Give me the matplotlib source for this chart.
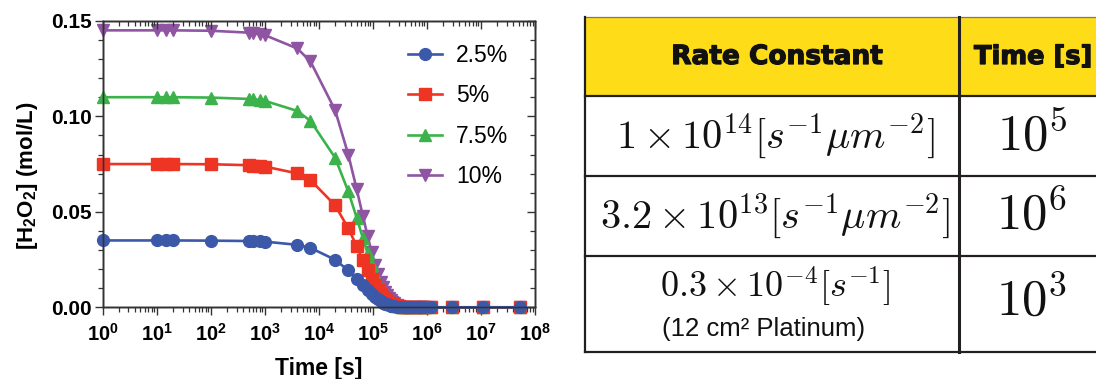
import numpy as np
import matplotlib
matplotlib.use("Agg")
import matplotlib.pyplot as plt
import matplotlib.patheffects as pe
from matplotlib.patches import Rectangle
from matplotlib.ticker import FixedLocator, MultipleLocator, LogLocator, NullFormatter

plt.rcParams['font.family'] = ['Liberation Sans', 'DejaVu Sans']
plt.rcParams['mathtext.fontset'] = 'custom'
plt.rcParams['mathtext.rm'] = 'Liberation Sans:bold'
plt.rcParams['mathtext.it'] = 'Liberation Sans:bold:italic'
plt.rcParams['mathtext.bf'] = 'Liberation Sans:bold'

# ---- data -------------------------------------------------------------
time_s = [1, 10, 15, 20, 100, 500, 600, 800, 1000, 4000, 7000,
          20000, 35000, 50000, 65000, 80000, 95000,
          110000, 125000, 140000, 155000, 170000, 185000, 200000, 215000, 230000,
          250000, 275000, 300000, 350000,
          400000, 450000, 500000, 600000, 700000, 800000, 900000,
          1.2e6, 2.9e6, 1.1e7, 5.3e7]

h2o2_2p5 = [0.0350, 0.0350, 0.0350, 0.0350, 0.0349, 0.0347, 0.0346, 0.0345, 0.0344, 0.0327, 0.0311,
            0.0249, 0.0193, 0.0150, 0.0116, 0.0090, 0.0070,
            0.0054, 0.0042, 0.0032, 0.0025, 0.0019, 0.0015, 0.0012, 0.0009, 0.0007,
            0.0005, 0.0003, 0.0002, 0.0001,
            0.0000, 0.0000, 0.0000, 0.0000, 0.0000, 0.0000, 0.0000,
            0.0000, 0.0000, 0.0000, 0.0000]

h2o2_5 = [0.0750, 0.0750, 0.0750, 0.0750, 0.0749, 0.0744, 0.0742, 0.0740, 0.0737, 0.0701, 0.0666,
          0.0534, 0.0414, 0.0321, 0.0248, 0.0193, 0.0149,
          0.0116, 0.0090, 0.0069, 0.0054, 0.0042, 0.0032, 0.0025, 0.0019, 0.0015,
          0.0011, 0.0007, 0.0005, 0.0002,
          0.0001, 0.0000, 0.0000, 0.0000, 0.0000, 0.0000, 0.0000,
          0.0000, 0.0000, 0.0000, 0.0000]

h2o2_7p5 = [0.1100, 0.1100, 0.1100, 0.1100, 0.1098, 0.1091, 0.1089, 0.1085, 0.1081, 0.1028, 0.0976,
            0.0783, 0.0607, 0.0470, 0.0364, 0.0282, 0.0219,
            0.0170, 0.0131, 0.0102, 0.0079, 0.0061, 0.0047, 0.0037, 0.0028, 0.0022,
            0.0016, 0.0010, 0.0007, 0.0003,
            0.0001, 0.0001, 0.0000, 0.0000, 0.0000, 0.0000, 0.0000,
            0.0000, 0.0000, 0.0000, 0.0000]

h2o2_10 = [0.1450, 0.1450, 0.1450, 0.1450, 0.1448, 0.1438, 0.1435, 0.1430, 0.1425, 0.1355, 0.1287,
           0.1032, 0.0800, 0.0620, 0.0480, 0.0372, 0.0288,
           0.0223, 0.0173, 0.0134, 0.0104, 0.0081, 0.0062, 0.0048, 0.0038, 0.0029,
           0.0021, 0.0013, 0.0009, 0.0004,
           0.0002, 0.0001, 0.0000, 0.0000, 0.0000, 0.0000, 0.0000,
           0.0000, 0.0000, 0.0000, 0.0000]

series_labels = ['2.5%', '5%', '7.5%', '10%']
series_values = [h2o2_2p5, h2o2_5, h2o2_7p5, h2o2_10]

y_ticks = [0.00, 0.05, 0.10, 0.15]
y_tick_labels = ['0.00', '0.05', '0.10', '0.15']
x_exponents = [0, 1, 2, 3, 4, 5, 6, 7, 8]

table_header = ['Rate Constant', 'Time [s]']
rate_constants = [r'$1 \times 10^{14}[s^{-1}\mu m^{-2}]$',
                  r'$3.2 \times 10^{13}[s^{-1}\mu m^{-2}]$',
                  r'$0.3 \times 10^{-4}[s^{-1}]$']
rate_note = '(12 cm\u00b2 Platinum)'
times_table = [r'$10^{5}$', r'$10^{6}$', r'$10^{3}$']

# ---- styles -----------------------------------------------------------
colors = ['#3B59A8', '#EE3524', '#3BB34A', '#8F55A2']
markers = ['o', 's', '^', 'v']
msizes = [8.5, 8.8, 8.8, 8.8]
spine_col = '#333333'

W, H = 1096, 379
fig = plt.figure(figsize=(W / 100, H / 100), dpi=100)

x0, x1, y0, y1 = 102.7, 535.0, 20.8, 307.3
ax = fig.add_axes([x0 / W, 1 - y1 / H, (x1 - x0) / W, (y1 - y0) / H])

n = len(series_values)
for i, (lab, vals) in enumerate(zip(series_labels, series_values)):
    ax.plot(time_s, vals, color=colors[i], marker=markers[i], ms=msizes[i],
            lw=1.9, label=lab, clip_on=False, zorder=3 + (n - i))

ax.set_xscale('log')
ax.set_xlim(1, 1e8)
ax.set_ylim(0, 0.15)

x_ticks = [10.0 ** e for e in x_exponents]
minor_x = LogLocator(base=10, subs=np.arange(2, 10), numticks=100)


def style_axes(a, direction):
    a.xaxis.set_major_locator(FixedLocator(x_ticks))
    a.xaxis.set_minor_locator(minor_x)
    a.yaxis.set_major_locator(FixedLocator(y_ticks))
    a.yaxis.set_minor_locator(MultipleLocator(0.01))
    a.tick_params(which='major', direction=direction, length=6, width=1.0, color=spine_col)
    a.tick_params(which='minor', direction=direction, length=3.5, width=0.9, color=spine_col)
    for s in a.spines.values():
        s.set_color(spine_col)
        s.set_linewidth(1.0)


style_axes(ax, 'out')
ax.set_yticklabels(y_tick_labels, fontsize=15, fontweight='bold')
ax.set_xticklabels([r'$10^{%d}$' % e for e in x_exponents], fontsize=14.5)
ax.xaxis.set_minor_formatter(NullFormatter())
ax.tick_params(axis='y', which='major', pad=2)
ax.tick_params(axis='x', which='major', pad=5)

# mirrored ticks pointing inwards on top and right
axt = ax.twiny()
axt.set_xscale('log')
axt.set_xlim(1, 1e8)
style_axes(axt, 'in')
axt.tick_params(labeltop=False, labelbottom=False, labelleft=False, labelright=False)
axt.xaxis.set_minor_formatter(NullFormatter())
axr = ax.twinx()
axr.set_ylim(0, 0.15)
style_axes(axr, 'in')
axr.tick_params(labeltop=False, labelbottom=False, labelleft=False, labelright=False)
axt.yaxis.set_visible(False)
axr.xaxis.set_visible(False)

ax.set_xlabel('Time [s]', fontsize=16.5, fontweight='bold')
ax.xaxis.set_label_coords(0.5, -0.175)
ax.set_ylabel(r'[H$_2$O$_2$] (mol/L)', fontsize=16, fontweight='bold')
ax.yaxis.set_label_coords(-0.145, 0.46)

ax.legend(loc='upper left', bbox_to_anchor=(408 / W, 1 - 44 / H),
          bbox_transform=fig.transFigure, frameon=False, fontsize=16.5,
          handlelength=1.5, handletextpad=0.6, labelspacing=0.76,
          borderpad=0, borderaxespad=0)

# ---- table ------------------------------------------------------------
tab = fig.add_axes([0, 0, 1, 1])
tab.set_xlim(0, W)
tab.set_ylim(H, 0)
tab.axis('off')

tl, tr = 584.5, 1112
row_lines = [17.3, 96.2, 175.5, 255.8, 351.5]
col_split = 959.0
line_col = '#231F20'

tab.add_patch(Rectangle((tl, row_lines[0]), tr - tl, row_lines[1] - row_lines[0],
                        facecolor='#FEDC17', edgecolor='none'))
tab.plot([tl, tr], [row_lines[0]] * 2, color='#777777', lw=0.9)
for yl in row_lines[1:]:
    tab.plot([tl, tr], [yl, yl], color=line_col, lw=1.6)
tab.plot([tl, tl], [row_lines[0], row_lines[-1]], color=line_col, lw=1.6)
tab.plot([col_split, col_split], [row_lines[0], row_lines[-1]], color=line_col, lw=2.2)

heavy = [pe.withStroke(linewidth=0.9, foreground='#111111')]
tab.text(777, 57, table_header[0], fontsize=19, fontweight='bold',
         family='DejaVu Sans', ha='center', va='center', color='#111111',
         path_effects=heavy)
tab.text(974, 57, table_header[1], fontsize=18.5, fontweight='bold',
         family='DejaVu Sans', ha='left', va='center', color='#111111',
         path_effects=heavy)

rate_y = [136, 216, 287]
rate_size = [29, 29, 26]
for txt, yy, fs in zip(rate_constants, rate_y, rate_size):
    tab.text(775, yy, txt, fontsize=fs, ha='center', va='center',
             math_fontfamily='cm', color='#111111')
tab.text(764, 329, rate_note, fontsize=18.5, ha='center', va='center', color='#111111')

time_y = [137, 215, 301]
for txt, yy in zip(times_table, time_y):
    tab.text(1032, yy, txt, fontsize=36.5, ha='center', va='center',
             math_fontfamily='cm', color='#111111')

fig.savefig('out.png', dpi=100)
